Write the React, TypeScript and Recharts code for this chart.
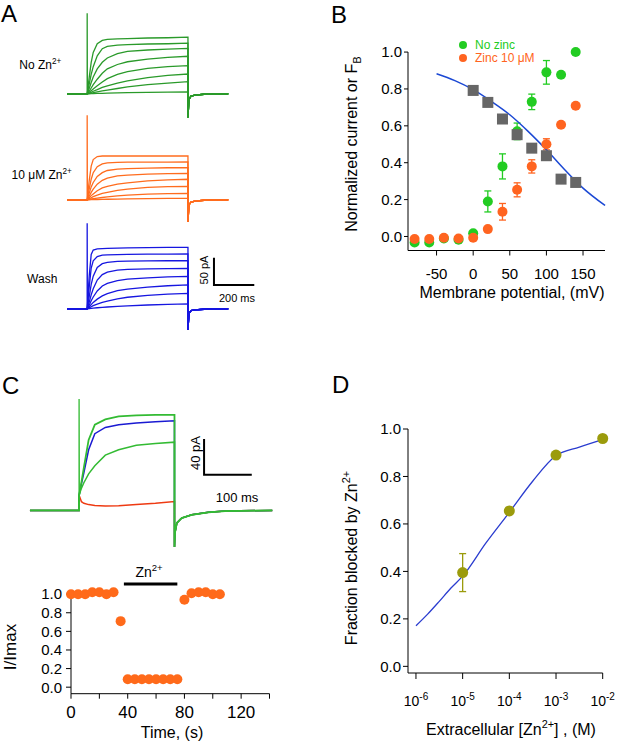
import React from 'react';
import { LineChart, Line, XAxis, YAxis, ComposedChart, Scatter, ErrorBar, ReferenceLine } from 'recharts';

const FONT = '"Liberation Sans", Arial, Helvetica, sans-serif';

// ---------- Panel A: current families (pA vs ms) ----------
const stepTimesA = [0, 10, 20, 30, 50, 75, 100, 150, 200, 300, 400, 500];
const tailTimesA = [500, 505, 515, 535, 580, 700];

const noZnTraces = [
  [0, 30, 58, 76, 92, 98, 100, 101, 101.5, 102.5, 103, 104],
  [0, 18, 36, 50, 70, 83, 87, 89.5, 90.5, 91.5, 92, 93],
  [0, 10, 21, 31, 46, 58, 66, 74, 78, 80.5, 82, 83.6],
  [0, 5, 11, 17, 27, 38, 46, 54, 59, 64, 67, 69],
  [0, 3, 6, 9, 15, 22, 28, 36, 41, 47, 50, 52],
  [0, 1.5, 3, 5, 8, 12, 15, 20, 24, 30, 34, 36.6],
  [0, 1, 2, 2.5, 4, 5.5, 7, 10, 13, 17, 20, 22.6],
  [0, 0.3, 0.5, 0.7, 1, 1.2, 1.5, 2, 2.4, 3, 3.4, 3.7],
];
const noZnTail = [-43, -10, -4, -2, -0.5, 0];
const noZnSpike = 148;

const zn10Traces = [
  [0, 35, 62, 74, 79.5, 80.5, 80.5, 80.5, 80.5, 80.5, 80.5, 80.6],
  [0, 20, 38, 50, 61, 66, 68, 69, 69.2, 69.4, 69.5, 69.6],
  [0, 12, 24, 32, 43, 50, 54, 56.5, 57.5, 58.5, 59, 59.2],
  [0, 7, 14, 20, 29, 36, 40, 44, 45.5, 47.5, 48.3, 48.8],
  [0, 4, 8, 11, 17, 22, 25, 29, 31.5, 35, 36.8, 37.9],
  [0, 2, 4, 6, 9, 12, 14, 17.5, 20, 23, 24.3, 25],
  [0, 1, 2, 2.5, 3.5, 4.5, 5.5, 7.5, 9, 10.8, 11.7, 12.2],
  [0, 0.3, 0.5, 0.7, 0.9, 1.1, 1.3, 1.7, 2, 2.5, 2.8, 3],
];
const zn10Tail = [-40, -9, -4, -2, -0.5, 0];
const zn10Spike = 155;

const washTraces = [
  [0, 60, 100, 108, 110, 110.5, 111, 111.5, 112, 112.5, 113, 113],
  [0, 40, 75, 88, 96, 98.5, 99, 99.5, 100, 100.3, 100.5, 100.7],
  [0, 22, 45, 60, 76, 83, 85.5, 87, 87.5, 88, 88.3, 88.5],
  [0, 12, 26, 37, 53, 63, 67.5, 71, 72.5, 73.5, 74, 74.5],
  [0, 7, 15, 22, 33, 42, 47, 52, 54.5, 57, 58.7, 59.8],
  [0, 4, 8, 12, 18, 24, 28, 33.5, 36.5, 40, 42.5, 44],
  [0, 2, 4, 6, 9, 12, 14.5, 18.5, 21.5, 25, 27.3, 28.7],
  [0, 0.5, 1, 1.5, 2.2, 3, 3.6, 4.8, 5.8, 7.3, 8.4, 9.2],
];
const washTail = [-38, -8, -3, -1.5, -0.5, 0];
const washSpike = 157;

const scaleA = { t: 629, v: 44, dt: 200, dv: 50 };

// ---------- Panel B ----------
const potentialsB = [-80, -60, -40, -20, 0, 20, 40, 60, 80, 100, 120, 140];
const noZinc = [-0.033, -0.033, -0.011, -0.018, 0.018, 0.19, 0.38, 0.57, 0.73, 0.89, 0.877, 1.0];
const noZincErr = [0, 0, 0, 0, 0, 0.057, 0.068, 0.045, 0.042, 0.064, 0, 0];
const zinc10 = [-0.014, -0.014, -0.007, -0.011, -0.007, 0.04, 0.134, 0.253, 0.38, 0.5, 0.606, 0.709];
const zinc10Err = [0, 0, 0, 0, 0, 0, 0.045, 0.038, 0.036, 0.03, 0, 0];
const fbPotentials = [0, 20, 40, 60, 80, 100, 120, 140];
const fbValues = [0.792, 0.727, 0.637, 0.552, 0.479, 0.438, 0.311, 0.293];
const fitBx = [-50, -25, 0, 25, 50, 75, 100, 125, 150, 180];
const fitBy = [0.882, 0.845, 0.796, 0.732, 0.66, 0.57, 0.47, 0.362, 0.262, 0.168];

// ---------- Panel C (traces, pA vs ms) ----------
const stepTimesC = [0, 5, 10, 20, 33, 55, 83, 120, 160, 200];
const tailTimesC = [200, 201, 205, 215, 236, 271, 306, 405];
const tailC = [-41, -25, -14, -8.6, -4.9, -2.2, -0.7, 0];
const ctrlC = [17, 32, 48, 79, 96, 102, 105.5, 106.5, 107, 107];
const washC = [17, 30, 42, 68, 86, 93, 96, 98, 99.5, 100.5];
const onsetC = [17, 25, 31, 41, 50, 62, 68, 73, 75, 76.5];
const zincC = [17, 9.7, 8, 6.5, 5.5, 5, 5.2, 6.5, 8, 10];
const spikeC = 125;
const scaleC = { t: 262, v: 40, dt: 100, dv: 40 };

// ---------- Panel C (time course) ----------
const timeC = [0, 5, 10, 15, 20, 25, 30, 35, 40, 45, 50, 55, 60, 65, 70, 75, 80, 85, 90, 95, 100, 105];
const iMaxC = [1.0, 1.0, 1.0, 1.02, 1.02, 1.0, 1.02, 0.71, 0.085, 0.085, 0.085, 0.085, 0.085, 0.085, 0.085, 0.085, 0.94, 1.01, 1.02, 1.02, 1.0, 1.0];
const znBar = { from: 37.3, to: 75, level: 1.11 };

// ---------- Panel D ----------
const znConc = [1e-5, 1e-4, 1e-3, 1e-2];
const fracBlocked = [0.395, 0.655, 0.89, 0.96];
const fracErr = [0.08, 0.015, 0.008, 0.005];
const fitDx = [1e-6, 1.78e-6, 3.16e-6, 5.62e-6, 1e-5, 3.16e-5, 1e-4, 3.16e-4, 1e-3, 3.16e-3, 1e-2];
const fitDy = [0.171, 0.22, 0.274, 0.33, 0.38, 0.52, 0.649, 0.78, 0.888, 0.924, 0.955];

const GREEN_A = '#2a9a2a';
const ORANGE_A = '#ff6c1e';
const BLUE_A = '#1616e0';

const makeTrace = (start: number, times: number[], vals: number[], tailT: number[], tailV: number[]) => [
  { t: start, v: 0 },
  { t: times[0], v: 0 },
  ...times.map((t, i) => ({ t, v: vals[i] })),
  ...tailT.map((t, i) => ({ t, v: tailV[i] })),
];

const scaleBar = (s: { t: number; v: number; dt: number; dv: number }) => [
  { t: s.t, v: s.v + s.dv },
  { t: s.t, v: s.v },
  { t: s.t + s.dt, v: s.v },
];

const Sup = ({ children }: any) => (
  <span style={{ fontSize: '0.68em', position: 'relative', top: '-0.6em' }}>{children}</span>
);
const Sub = ({ children }: any) => (
  <span style={{ fontSize: '0.7em', position: 'relative', top: '0.35em' }}>{children}</span>
);

const Lbl = ({ x, y, size, rotate, color, children }: any) => (
  <div
    style={{
      position: 'absolute', left: x, top: y, fontSize: size, lineHeight: 1, whiteSpace: 'nowrap',
      color: color || '#000',
      transform: `translate(-50%, -50%)${rotate ? ' rotate(-90deg)' : ''}`,
    }}
  >
    {children}
  </div>
);

const TraceGroup = ({ top, traces, tail, spike, color, bar }: any) => (
  <div style={{ position: 'absolute', left: 65.3, top }}>
    <LineChart width={204} height={120} margin={{ top: 0, right: 0, bottom: 0, left: 0 }}>
      <XAxis type="number" dataKey="t" domain={[-110, 902]} hide />
      <YAxis type="number" dataKey="v" domain={[-55, 164.8]} hide />
      {traces.map((vals: number[], i: number) => (
        <Line key={i} data={makeTrace(-100, stepTimesA, vals, tailTimesA, tail)} dataKey="v" type="linear"
          stroke={color} strokeWidth={1.3} dot={false} isAnimationActive={false} />
      ))}
      <Line data={[{ t: 0, v: 0 }, { t: 0, v: spike }, { t: 1, v: 0 }]} dataKey="v" type="linear"
        stroke={color} strokeWidth={1.3} dot={false} isAnimationActive={false} />
      {bar && (
        <Line data={scaleBar(bar)} dataKey="v" type="linear" stroke="#000" strokeWidth={2}
          dot={false} isAnimationActive={false} />
      )}
    </LineChart>
  </div>
);

const axisStyle = { stroke: '#000', strokeWidth: 1 };

const PowTick = ({ x, y, payload }: any) => {
  const exp = Math.round(Math.log10(payload.value));
  return (
    <text x={x} y={y + 10} textAnchor="middle" fill="#000" style={{ fontSize: 14 }}>
      <tspan>10</tspan>
      <tspan dy={-6} style={{ fontSize: 10 }}>{exp}</tspan>
    </text>
  );
};

const Letter = ({ x, y, children }: any) => (
  <div style={{ position: 'absolute', left: x, top: y, fontSize: 24, lineHeight: 1.1 }}>{children}</div>
);

export default function App() {
  const noZincData = potentialsB.map((x, i) => ({ x, y: noZinc[i], e: noZincErr[i] }));
  const zincData = potentialsB.map((x, i) => ({ x, y: zinc10[i], e: zinc10Err[i] }));
  const fbData = fbPotentials.map((x, i) => ({ x, y: fbValues[i] }));
  const fitB = fitBx.map((x, i) => ({ x, y: fitBy[i] }));
  const courseData = timeC.map((x, i) => ({ x, y: iMaxC[i] }));
  const dData = znConc.map((x, i) => ({ x, y: fracBlocked[i], e: fracErr[i] }));
  const fitD = fitDx.map((x, i) => ({ x, y: fitDy[i] }));

  const dot = (r: number, fill: string) => (p: any) => <circle cx={p.cx} cy={p.cy} r={r} fill={fill} />;
  const square = (p: any) => <rect x={p.cx - 5.5} y={p.cy - 5.5} width={11} height={11} fill="#666666" />;

  return (
    <div style={{ position: 'absolute', left: 0, top: 0, width: 617, height: 743, background: '#fff', fontFamily: FONT, overflow: 'hidden' }}>
      {/* Panel letters */}
      <Letter x={1} y={1}>A</Letter>
      <Letter x={331} y={2}>B</Letter>
      <Letter x={2} y={373}>C</Letter>
      <Letter x={332} y={372}>D</Letter>

      {/* Panel A */}
      <TraceGroup top={4.3} traces={noZnTraces} tail={noZnTail} spike={noZnSpike} color={GREEN_A} />
      <TraceGroup top={109.7} traces={zn10Traces} tail={zn10Tail} spike={zn10Spike} color={ORANGE_A} />
      <TraceGroup top={219} traces={washTraces} tail={washTail} spike={washSpike} color={BLUE_A} bar={scaleA} />
      <Lbl x={40.3} y={65} size={12}>No Zn<Sup>2+</Sup></Lbl>
      <Lbl x={41.7} y={175} size={12}>10 μM Zn<Sup>2+</Sup></Lbl>
      <Lbl x={42.2} y={278.7} size={12}>Wash</Lbl>
      <Lbl x={204} y={270} size={11} rotate>50 pA</Lbl>
      <Lbl x={237} y={297.7} size={11}>200 ms</Lbl>

      {/* Panel B */}
      <div style={{ position: 'absolute', left: 340, top: 31.2 }}>
        <ComposedChart width={277} height={249.5} margin={{ top: 10, right: 12, bottom: 0, left: 0 }}>
          <XAxis type="number" dataKey="x" domain={[-89, 180]} ticks={[-50, 0, 50, 100, 150]} interval={0}
            height={30} tickSize={5} tickMargin={12.6} axisLine={axisStyle} tickLine={axisStyle}
            tick={{ fill: '#000', fontSize: 15 }} />
          <YAxis type="number" dataKey="y" domain={[-0.076, 1.06]} ticks={[0, 0.2, 0.4, 0.6, 0.8, 1]} interval={0}
            width={68} tickSize={4} tickMargin={2} axisLine={false} tickLine={axisStyle}
            tickFormatter={(v: number) => v.toFixed(1)} tick={{ fill: '#000', fontSize: 15 }} />
          <ReferenceLine segment={[{ x: -89, y: -0.076 }, { x: -89, y: 1 }]} stroke="#000" strokeWidth={1} ifOverflow="visible" />
          <Scatter data={noZincData} dataKey="y" shape={dot(5, '#22cc22')} isAnimationActive={false}>
            <ErrorBar dataKey="e" direction="y" width={3.5} stroke="#22cc22" strokeWidth={1.3} />
          </Scatter>
          <Scatter data={zincData} dataKey="y" shape={dot(5, '#ff6420')} isAnimationActive={false}>
            <ErrorBar dataKey="e" direction="y" width={3.5} stroke="#ff6420" strokeWidth={1.3} />
          </Scatter>
          <Scatter data={fbData} dataKey="y" shape={square} isAnimationActive={false} />
          <Line data={fitB} dataKey="y" type="monotone" stroke="#1b48d4" strokeWidth={1.5} dot={false} isAnimationActive={false} />
        </ComposedChart>
      </div>
      <div style={{ position: 'absolute', left: 459.3, top: 41, width: 8, height: 8, borderRadius: 4, background: '#22cc22' }} />
      <div style={{ position: 'absolute', left: 459.3, top: 54.3, width: 8, height: 8, borderRadius: 4, background: '#ff6420' }} />
      <div style={{ position: 'absolute', left: 475, top: 39, fontSize: 12, lineHeight: 1, color: '#22cc22', whiteSpace: 'nowrap' }}>No zinc</div>
      <div style={{ position: 'absolute', left: 475, top: 52.3, fontSize: 12, lineHeight: 1, color: '#ff6420', whiteSpace: 'nowrap' }}>Zinc 10 μM</div>
      <Lbl x={352} y={144} size={16} rotate>Normalized current or F<Sub>B</Sub></Lbl>
      <Lbl x={512} y={293} size={16}>Membrane potential, (mV)</Lbl>

      {/* Panel C traces */}
      <div style={{ position: 'absolute', left: 28.9, top: 394.3 }}>
        <LineChart width={246} height={161} margin={{ top: 0, right: 0, bottom: 0, left: 0 }}>
          <XAxis type="number" dataKey="t" domain={[-105, 410.7]} hide />
          <YAxis type="number" dataKey="v" domain={[-50, 130.5]} hide />
          <Line data={makeTrace(-103, stepTimesC, zincC, tailTimesC, tailC)} dataKey="v" type="linear"
            stroke="#ee3a12" strokeWidth={1.5} dot={false} isAnimationActive={false} />
          <Line data={makeTrace(-103, stepTimesC, washC, tailTimesC, tailC)} dataKey="v" type="linear"
            stroke="#1a1ad2" strokeWidth={1.5} dot={false} isAnimationActive={false} />
          <Line data={makeTrace(-103, stepTimesC, onsetC, tailTimesC, tailC)} dataKey="v" type="linear"
            stroke="#33bb33" strokeWidth={1.5} dot={false} isAnimationActive={false} />
          <Line data={makeTrace(-103, stepTimesC, ctrlC, tailTimesC, tailC)} dataKey="v" type="linear"
            stroke="#33bb33" strokeWidth={1.8} dot={false} isAnimationActive={false} />
          <Line data={[{ t: 0, v: 0 }, { t: 0, v: spikeC }, { t: 0.5, v: 17 }]} dataKey="v" type="linear"
            stroke="#33bb33" strokeWidth={1.3} dot={false} isAnimationActive={false} />
          <Line data={scaleBar(scaleC)} dataKey="v" type="linear" stroke="#000" strokeWidth={2}
            dot={false} isAnimationActive={false} />
        </LineChart>
      </div>
      <Lbl x={195} y={453} size={13} rotate>40 pA</Lbl>
      <Lbl x={237} y={496.7} size={13}>100 ms</Lbl>

      {/* Panel C time course */}
      <div style={{ position: 'absolute', left: 0, top: 563.3 }}>
        <ComposedChart width={275} height={160.7} margin={{ top: 20, right: 5.5, bottom: 0, left: 0 }}>
          <XAxis type="number" dataKey="x" domain={[0, 140]} ticks={[0, 20, 40, 60, 80, 100, 120, 140]} interval={0}
            height={30} tickSize={5} tickMargin={7} axisLine={axisStyle} tickLine={axisStyle}
            tickFormatter={(v: number) => (v % 40 === 0 ? String(v) : '')} tick={{ fill: '#000', fontSize: 17 }} />
          <YAxis type="number" dataKey="y" domain={[-0.07, 1.12]} ticks={[0, 0.2, 0.4, 0.6, 0.8, 1]} interval={0}
            width={71} tickSize={5} tickMargin={4} axisLine={false} tickLine={axisStyle}
            tickFormatter={(v: number) => v.toFixed(1)} tick={{ fill: '#000', fontSize: 15 }} />
          <ReferenceLine segment={[{ x: 0, y: -0.07 }, { x: 0, y: 1 }]} stroke="#000" strokeWidth={1} ifOverflow="visible" />
          <ReferenceLine segment={[{ x: znBar.from, y: znBar.level }, { x: znBar.to, y: znBar.level }]}
            stroke="#000" strokeWidth={3} ifOverflow="visible" />
          <Scatter data={courseData} dataKey="y" shape={dot(5, '#ff6a1a')} isAnimationActive={false} />
        </ComposedChart>
      </div>
      <Lbl x={149} y={572} size={14}>Zn<Sup>2+</Sup></Lbl>
      <Lbl x={9.5} y={647} size={17} rotate>I/Imax</Lbl>
      <Lbl x={172} y={733} size={16}>Time, (s)</Lbl>

      {/* Panel D */}
      <div style={{ position: 'absolute', left: 340, top: 419.3 }}>
        <ComposedChart width={277} height={294} margin={{ top: 10, right: 14.3, bottom: 0, left: 0 }}>
          <XAxis type="number" dataKey="x" scale="log" domain={[6.75e-7, 1e-2]} ticks={[1e-6, 1e-5, 1e-4, 1e-3, 1e-2]}
            interval={0} height={40} tickSize={6} tickMargin={17} axisLine={axisStyle} tickLine={axisStyle}
            tick={<PowTick />} />
          <YAxis type="number" dataKey="y" domain={[-0.028, 1]} ticks={[0, 0.2, 0.4, 0.6, 0.8, 1]} interval={0}
            width={68} tickSize={5} tickMargin={2} axisLine={axisStyle} tickLine={axisStyle}
            tickFormatter={(v: number) => v.toFixed(1)} tick={{ fill: '#000', fontSize: 15 }} />
          <Line data={fitD} dataKey="y" type="monotone" stroke="#2a3ccf" strokeWidth={1.3} dot={false} isAnimationActive={false} />
          <Scatter data={dData} dataKey="y" shape={dot(5.5, '#9b9b0c')} isAnimationActive={false}>
            <ErrorBar dataKey="e" direction="y" width={3.5} stroke="#9b9b0c" strokeWidth={1.3} />
          </Scatter>
        </ComposedChart>
      </div>
      <Lbl x={352} y={557.5} size={16} rotate>Fraction blocked by Zn<Sup>2+</Sup></Lbl>
      <Lbl x={511} y={730} size={16}>Extracellular [Zn<Sup>2+</Sup>] , (M)</Lbl>
    </div>
  );
}
